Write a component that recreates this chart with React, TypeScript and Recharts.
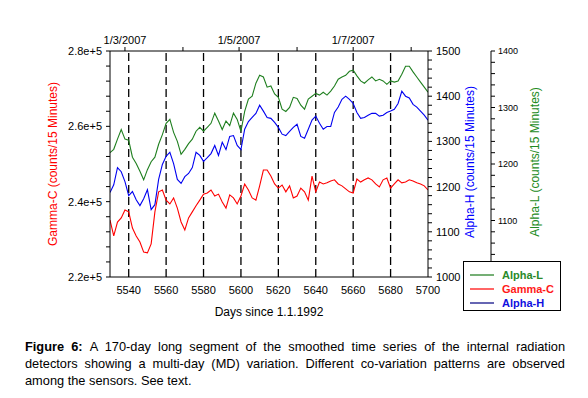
import React from 'react';
import { LineChart, Line, XAxis, YAxis, ReferenceLine } from 'recharts';

const days = [
  5530, 5532, 5534, 5536, 5538, 5540, 5542, 5544, 5546, 5548,
  5550, 5552, 5554, 5556, 5558, 5560, 5562, 5564, 5566, 5568,
  5570, 5572, 5574, 5576, 5578, 5580, 5582, 5584, 5586, 5588,
  5590, 5592, 5594, 5596, 5598, 5600, 5602, 5604, 5606, 5608,
  5610, 5612, 5614, 5616, 5618, 5620, 5622, 5624, 5626, 5628,
  5630, 5632, 5634, 5636, 5638, 5640, 5642, 5644, 5646, 5648,
  5650, 5652, 5654, 5656, 5658, 5660, 5662, 5664, 5666, 5668,
  5670, 5672, 5674, 5676, 5678, 5680, 5682, 5684, 5686, 5688,
  5690, 5692, 5694, 5696, 5698, 5700,
];

const alphaL = [
  1220, 1226, 1244, 1261, 1244, 1242, 1212, 1201, 1187, 1172,
  1190, 1204, 1212, 1235, 1252, 1272, 1279, 1256, 1240, 1217,
  1226, 1236, 1244, 1258, 1265, 1258, 1265, 1272, 1290, 1276,
  1261, 1276, 1268, 1290, 1279, 1258, 1293, 1315, 1320, 1343,
  1357, 1354, 1336, 1338, 1324, 1318, 1297, 1293, 1300, 1318,
  1316, 1304, 1297, 1315, 1320, 1325, 1322, 1327, 1322, 1329,
  1338, 1350, 1354, 1357, 1364, 1366, 1356, 1347, 1343, 1349,
  1354, 1347, 1350, 1347, 1341, 1347, 1345, 1347, 1359, 1373,
  1373, 1363, 1354, 1345, 1336, 1327,
];

const gammaC = [
  235100, 230900, 234600, 235700, 237800, 237300, 233000, 230900, 229300, 226600,
  226400, 228800, 237300, 242600, 243100, 240400, 239400, 241000, 238300, 234600,
  232500, 235700, 237300, 238900, 240400, 242000, 242300, 243100, 241500, 242000,
  239900, 238300, 241800, 241000, 239400, 241500, 244700, 243100, 241000, 240400,
  244200, 248400, 248400, 246800, 244700, 243600, 244400, 242600, 244200, 241000,
  241500, 243600, 242600, 240400, 246800, 242600, 245200, 244700, 245000, 245500,
  245800, 244700, 244200, 243400, 242600, 242300, 246000, 245200, 245800, 246300,
  245800, 244700, 243900, 245800, 246300, 243600, 244700, 245800, 245000, 245200,
  245800, 245500, 245000, 244700, 244200, 243100,
];

const alphaH = [
  1187, 1204, 1242, 1233, 1211, 1180, 1189, 1171, 1158, 1173,
  1193, 1149, 1160, 1216, 1249, 1267, 1276, 1251, 1216, 1207,
  1222, 1229, 1242, 1276, 1269, 1256, 1264, 1273, 1291, 1269,
  1298, 1282, 1311, 1313, 1291, 1282, 1327, 1344, 1353, 1362,
  1380, 1367, 1353, 1351, 1342, 1331, 1316, 1313, 1322, 1331,
  1338, 1311, 1307, 1327, 1347, 1356, 1340, 1327, 1333, 1333,
  1364, 1376, 1393, 1400, 1393, 1384, 1364, 1351, 1353, 1358,
  1362, 1362, 1356, 1358, 1364, 1367, 1371, 1384, 1411, 1400,
  1396, 1382, 1376, 1367, 1358, 1347,
];

const dayTicks = [5540, 5560, 5580, 5600, 5620, 5640, 5660, 5680, 5700];
const gridDays = [5540, 5560, 5580, 5600, 5620, 5640, 5660, 5680];
const monthTicks = [5538, 5569, 5599, 5630, 5660, 5691];
const monthLabels = ['1/3/2007', '', '1/5/2007', '', '1/7/2007', ''];

const gammaTicks = [
  220000, 224000, 228000, 232000, 236000, 240000, 244000, 248000,
  252000, 256000, 260000, 264000, 268000, 272000, 276000, 280000,
];
const gammaMajor = [220000, 240000, 260000, 280000];
const gammaLabels = ['2.2e+5', '2.4e+5', '2.6e+5', '2.8e+5'];

const alphaHTicks = [
  1000, 1020, 1040, 1060, 1080, 1100, 1120, 1140, 1160, 1180,
  1200, 1220, 1240, 1260, 1280, 1300, 1320, 1340, 1360, 1380,
  1400, 1420, 1440, 1460, 1480, 1500,
];
const alphaHMajor = [1000, 1100, 1200, 1300, 1400, 1500];

const alphaLTicks = [
  1000, 1020, 1040, 1060, 1080, 1100, 1120, 1140, 1160, 1180,
  1200, 1220, 1240, 1260, 1280, 1300, 1320, 1340, 1360, 1380, 1400,
];
const alphaLMajor = [1100, 1200, 1300, 1400];

const GREEN = '#1f7f1f';
const RED = '#ff0000';
const BLUE = '#0000f0';

const legendItems = [
  { name: 'Alpha-L', line: '#1a7a1a', text: '#2a8a2a' },
  { name: 'Gamma-C', line: '#ff0000', text: '#ff1a1a' },
  { name: 'Alpha-H', line: '#000080', text: '#1010e0' },
];

const captionLines = [
  'A 170-day long segment of the smoothed time series of the internal radiation',
  'detectors showing a multi-day (MD) variation. Different co-variation patterns are observed',
  'among the sensors. See text.',
];

export default function App() {
  const data = days.map((d, i) => ({
    day: d,
    alphaL: alphaL[i],
    gammaC: gammaC[i],
    alphaH: alphaH[i],
  }));

  const font = '"Liberation Sans", Arial, Helvetica, sans-serif';

  return (
    <div
      style={{
        position: 'absolute',
        left: 0,
        top: 0,
        width: 588,
        height: 398,
        background: '#ffffff',
        fontFamily: font,
        overflow: 'hidden',
      }}
    >
      <div style={{ position: 'absolute', left: 0, top: 0 }}>
        <LineChart
          width={588}
          height={320}
          data={data}
          margin={{ top: 0, right: 0, bottom: 13, left: 0 }}
        >
          <XAxis
            xAxisId="bottom"
            dataKey="day"
            type="number"
            domain={[5530, 5700]}
            allowDataOverflow
            ticks={dayTicks}
            interval={0}
            height={30}
            tickLine={false}
            tickSize={5}
            tickMargin={4}
            axisLine={{ stroke: '#000', strokeWidth: 1 }}
            tick={{ fill: '#000', fontSize: 11 }}
          />
          <XAxis
            xAxisId="top"
            orientation="top"
            dataKey="day"
            type="number"
            domain={[5530, 5700]}
            allowDataOverflow
            ticks={monthTicks}
            interval={0}
            height={51}
            tickSize={4}
            tickMargin={3}
            tickLine={{ stroke: '#000' }}
            axisLine={{ stroke: '#000', strokeWidth: 1 }}
            tick={{ fill: '#000', fontSize: 11 }}
            tickFormatter={(v: number) => {
              const i = monthTicks.indexOf(v);
              return i >= 0 ? monthLabels[i] : '';
            }}
          />
          <YAxis
            yAxisId="gamma"
            orientation="left"
            type="number"
            domain={[220000, 280000]}
            allowDataOverflow
            ticks={gammaTicks}
            interval={0}
            width={110}
            tickSize={4}
            tickMargin={4}
            tickLine={{ stroke: '#000' }}
            axisLine={{ stroke: '#000', strokeWidth: 1 }}
            tick={{ fill: '#000', fontSize: 11 }}
            tickFormatter={(v: number) => {
              const i = gammaMajor.indexOf(v);
              return i >= 0 ? gammaLabels[i] : '';
            }}
          />
          <YAxis
            yAxisId="alphaH"
            orientation="right"
            type="number"
            domain={[1000, 1500]}
            allowDataOverflow
            ticks={alphaHTicks}
            interval={0}
            width={63}
            tickSize={4}
            tickMargin={4}
            tickLine={{ stroke: '#000' }}
            axisLine={{ stroke: '#000', strokeWidth: 1 }}
            tick={{ fill: '#000', fontSize: 11 }}
            tickFormatter={(v: number) => (alphaHMajor.indexOf(v) >= 0 ? String(v) : '')}
          />
          <YAxis
            yAxisId="alphaL"
            orientation="right"
            type="number"
            domain={[1000, 1400]}
            allowDataOverflow
            ticks={alphaLTicks}
            interval={0}
            width={97}
            tickSize={4}
            tickMargin={3}
            tickLine={{ stroke: '#000' }}
            axisLine={{ stroke: '#000', strokeWidth: 1 }}
            tick={{ fill: '#000', fontSize: 9 }}
            tickFormatter={(v: number) => (alphaLMajor.indexOf(v) >= 0 ? String(v) : '')}
          />
          {gridDays.map((d) => (
            <ReferenceLine
              key={d}
              x={d}
              xAxisId="bottom"
              yAxisId="gamma"
              stroke="#000"
              strokeWidth={1.3}
              strokeDasharray="8 4"
            />
          ))}
          <Line
            xAxisId="bottom"
            yAxisId="alphaL"
            dataKey="alphaL"
            type="linear"
            stroke={GREEN}
            strokeWidth={1.1}
            dot={false}
            isAnimationActive={false}
          />
          <Line
            xAxisId="bottom"
            yAxisId="alphaH"
            dataKey="alphaH"
            type="linear"
            stroke={BLUE}
            strokeWidth={1.1}
            dot={false}
            isAnimationActive={false}
          />
          <Line
            xAxisId="bottom"
            yAxisId="gamma"
            dataKey="gammaC"
            type="linear"
            stroke={RED}
            strokeWidth={1.1}
            dot={false}
            isAnimationActive={false}
          />
        </LineChart>
      </div>

      <svg
        width={588}
        height={330}
        style={{ position: 'absolute', left: 0, top: 0, pointerEvents: 'none' }}
      >
        <text
          x={53}
          y={164}
          transform="rotate(-90 53 164)"
          textAnchor="middle"
          dominantBaseline="central"
          fill="#ff0000"
          fontSize={12}
        >
          Gamma-C (counts/15 Minutes)
        </text>
        <text
          x={470}
          y={162}
          transform="rotate(-90 470 162)"
          textAnchor="middle"
          dominantBaseline="central"
          fill="#0000ff"
          fontSize={12}
        >
          Alpha-H (counts/15 Minutes)
        </text>
        <text
          x={535}
          y={162}
          transform="rotate(-90 535 162)"
          textAnchor="middle"
          dominantBaseline="central"
          fill="#228b22"
          fontSize={12}
        >
          Alpha-L (counts/15 Minutes)
        </text>
        <text x={269} y={312} textAnchor="middle" dominantBaseline="central" fill="#000" fontSize={12}>
          Days since 1.1.1992
        </text>

        <rect x={463.5} y={261.5} width={97} height={49} fill="#ffffff" stroke="#000" strokeWidth={1} />
        {legendItems.map((it, i) => {
          const cy = 275 + i * 14;
          return (
            <g key={it.name}>
              <line x1={470} x2={494} y1={cy} y2={cy} stroke={it.line} strokeWidth={1.2} />
              <text x={502} y={cy} dominantBaseline="central" fill={it.text} fontSize={11} fontWeight="bold">
                {it.name}
              </text>
            </g>
          );
        })}
      </svg>

      <div
        style={{
          position: 'absolute',
          left: 25,
          top: 338,
          width: 540,
          fontSize: 12.8,
          lineHeight: '17px',
          color: '#000',
        }}
      >
        {captionLines.map((ln, i) => (
          <div
            key={i}
            style={{
              textAlign: 'justify',
              textAlignLast: i < captionLines.length - 1 ? 'justify' : 'left',
              whiteSpace: 'nowrap',
            }}
          >
            {i === 0 ? <b>Figure 6: </b> : null}
            {ln}
          </div>
        ))}
      </div>
    </div>
  );
}
